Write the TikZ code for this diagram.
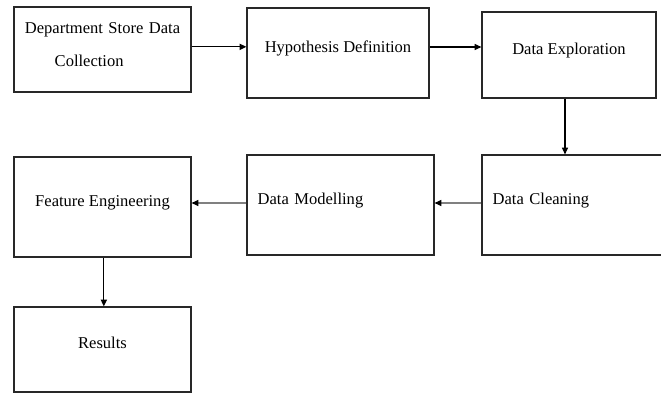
\documentclass[tikz,border=0pt]{standalone}
\usepackage{fontspec}
\setmainfont{Liberation Serif}
\usetikzlibrary{arrows.meta}
\definecolor{boxline}{RGB}{40,40,40}
\definecolor{linkgray}{RGB}{128,128,128}

\begin{document}
\begin{tikzpicture}[
            x=0.75pt, y=-0.75pt,
            box/.style={rectangle, draw=boxline, line width=0.9pt, inner sep=4pt,
                        font=\fontsize{12.4}{15}\selectfont, text depth=9.5pt},
            link/.style={line width=0.9pt, -{Triangle[length=5pt, width=4.5pt]}},
            faint/.style={line width=0.9pt, draw=linkgray,
                        -{Triangle[length=5pt, width=4.5pt, color=black]}}
        ]
            \path[use as bounding box, clip] (0,0) rectangle (661,393);

            \node[box, minimum width=132.75pt, minimum height=63.75pt,
                  text width=124pt, align=center, text depth=32pt] (collect) at (102.5,49.5) {
                Department Store Data \\[9.75pt]
                Collection\hspace*{20pt}
            };

            \node[box, minimum width=136.5pt, minimum height=67.5pt] (hypo) at (338,53) {Hypothesis Definition};

            \node[box, minimum width=130.5pt, minimum height=64.5pt] (explore) at (569,55) {Data Exploration};

            \node[box, minimum height=75pt, inner xsep=8pt, text width=126.5pt, align=left] (clean) at (577,205) {Data Cleaning};

            \node[box, minimum height=75pt, inner xsep=8pt, text width=124.25pt, align=left] (model) at (340.5,205) {Data Modelling};

            \node[box, minimum width=132.75pt, minimum height=75pt] (feature) at (102.5,207) {Feature Engineering};

            \node[box, minimum width=132.75pt, minimum height=63.75pt] (results) at (102.5,349.5) {Results};

            % top row, then down and back to the left
            \draw[link] ([yshift=2pt]collect.east) -- ([yshift=2pt]collect.east -| hypo.west);
            \draw[link] ([yshift=4.5pt]hypo.east) -- ([yshift=4.5pt]hypo.east -| explore.west);
            \draw[link] ([xshift=-3pt]explore.south) -- ([xshift=-3pt]explore.south |- clean.north);
            \draw[faint] ([yshift=1.5pt]clean.west) -- ([yshift=1.5pt]clean.west -| model.east);
            \draw[faint] ([yshift=1.5pt]model.west) -- ([yshift=1.5pt]model.west -| feature.east);
            \draw[link] ([xshift=1pt]feature.south) -- ([xshift=1pt]feature.south |- results.north);
        \end{tikzpicture}
\end{document}
